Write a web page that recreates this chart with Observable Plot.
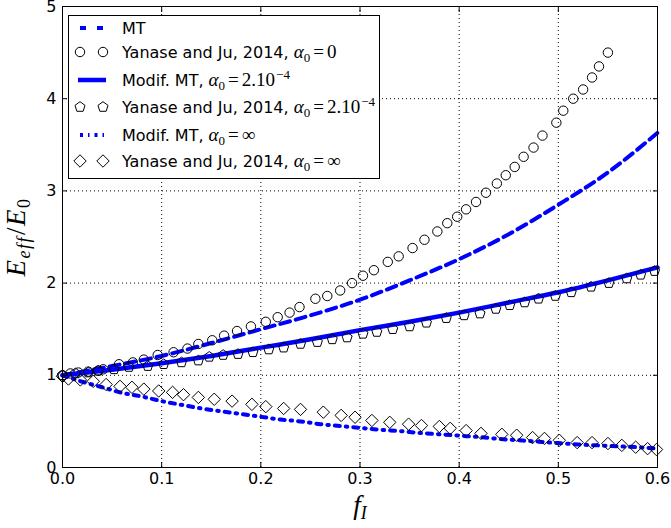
<!DOCTYPE html>
<html><head><meta charset="utf-8">
<script src="https://cdn.jsdelivr.net/npm/d3@7"></script>
<script src="https://cdn.jsdelivr.net/npm/@observablehq/plot@0.6"></script>
<style>body{margin:0;background:#fff} #c{position:relative;width:671px;height:528px}</style>
</head><body><div id="c"></div><script>
// ---- data ----
const xTicks = [0, 0.1, 0.2, 0.3, 0.4, 0.5, 0.6];
const yTicks = [0, 1, 2, 3, 4, 5];

// MT (dashed)
const mtF = [0,0.05,0.1,0.15,0.2,0.25,0.3,0.35,0.4,0.45,0.5,0.55,0.6];
const mtE = [1,1.1,1.21,1.35,1.5,1.65,1.82,2.03,2.26,2.53,2.85,3.2,3.63];

// Yanase and Ju, alpha0 = 0 (circles)
const circF = [0,0.008,0.016,0.026,0.036,0.041,0.057,0.071,0.082,0.096,0.112,0.126,0.137,0.151,0.163,0.176,0.190,0.205,0.217,0.229,0.239,0.255,0.267,0.280,0.292,0.303,0.314,0.328,0.339,0.353,0.365,0.378,0.388,0.398,0.407,0.417,0.427,0.438,0.447,0.456,0.465,0.475,0.484,0.498,0.505,0.515,0.525,0.534,0.541,0.550];
const circE = [1.0,1.02,1.03,1.04,1.05,1.065,1.12,1.14,1.17,1.22,1.25,1.29,1.34,1.38,1.43,1.48,1.53,1.58,1.63,1.68,1.74,1.83,1.86,1.92,2.0,2.08,2.14,2.23,2.29,2.38,2.47,2.56,2.65,2.72,2.80,2.88,2.98,3.08,3.17,3.26,3.37,3.47,3.60,3.74,3.87,4.0,4.10,4.23,4.35,4.5];

// Modif. MT, alpha0 = 2e-4 (solid)
const solF = [0,0.05,0.1,0.15,0.2,0.25,0.3,0.35,0.4,0.45,0.5,0.55,0.6];
const solE = [1,1.06,1.13,1.21,1.3,1.39,1.49,1.58,1.68,1.79,1.9,2.03,2.17];

// Yanase and Ju, alpha0 = 2e-4 (pentagons)
const pentF = [0,0.013,0.026,0.036,0.052,0.067,0.086,0.102,0.12,0.137,0.148,0.162,0.177,0.192,0.208,0.223,0.240,0.257,0.272,0.287,0.303,0.317,0.333,0.350,0.367,0.387,0.405,0.421,0.437,0.451,0.466,0.480,0.497,0.513,0.533,0.551,0.569,0.583,0.597];
const pentE = [1.0,1.02,1.03,1.05,1.065,1.09,1.10,1.12,1.14,1.16,1.20,1.22,1.23,1.25,1.28,1.30,1.34,1.36,1.39,1.41,1.45,1.47,1.50,1.53,1.57,1.62,1.65,1.67,1.72,1.76,1.79,1.83,1.86,1.90,1.96,2.0,2.05,2.09,2.13];

// Modif. MT, alpha0 = inf (dash-dot)
const ddF = [0,0.02,0.04,0.06,0.08,0.1,0.12,0.14,0.16,0.18,0.2,0.22,0.24,0.26,0.28,0.3,0.32,0.34,0.36,0.38,0.4,0.42,0.44,0.46,0.48,0.5,0.52,0.54,0.56,0.58,0.6];
const ddE = [1.0,0.93,0.87,0.81,0.77,0.72,0.68,0.64,0.61,0.58,0.55,0.52,0.50,0.47,0.45,0.43,0.41,0.395,0.375,0.36,0.345,0.33,0.31,0.295,0.28,0.265,0.25,0.24,0.23,0.22,0.205];

// Yanase and Ju, alpha0 = inf (diamonds)
const diaF = [0,0.006,0.018,0.031,0.044,0.058,0.070,0.082,0.097,0.111,0.122,0.137,0.153,0.171,0.191,0.205,0.223,0.240,0.263,0.281,0.295,0.312,0.330,0.349,0.362,0.380,0.391,0.407,0.422,0.443,0.458,0.474,0.486,0.501,0.519,0.534,0.550,0.564,0.578,0.590,0.599];
const diaE = [0.99,0.96,0.95,0.935,0.90,0.88,0.87,0.85,0.83,0.815,0.79,0.76,0.74,0.72,0.685,0.66,0.64,0.63,0.60,0.565,0.545,0.51,0.49,0.47,0.455,0.445,0.425,0.40,0.37,0.36,0.35,0.325,0.315,0.295,0.27,0.27,0.26,0.24,0.22,0.205,0.195];

// ---- build ----
const pts = (xs, ys) => xs.map((x, i) => ({f: x, e: ys[i]}));
const blue = "#0000ff";
const pentagon = {draw(ctx, size) {
  const R = Math.sqrt(size / Math.PI);
  for (let i = 0; i < 5; i++) {
    const a = -Math.PI / 2 + i * 2 * Math.PI / 5;
    const px = R * Math.cos(a), py = R * Math.sin(a);
    i ? ctx.lineTo(px, py) : ctx.moveTo(px, py);
  }
  ctx.closePath();
}};
const blank = () => "";
const rC = 4.7, rP = 5.3, rD = 5.6;

const chart = Plot.plot({
  width: 671, height: 528,
  marginLeft: 62, marginRight: 14, marginTop: 6, marginBottom: 61,
  style: {fontFamily: "DejaVu Sans", fontSize: "16px", background: "white", color: "black"},
  x: {domain: [0, 0.6]},
  y: {domain: [0, 5]},
  marks: [
    Plot.gridX(xTicks, {stroke: "black", strokeOpacity: 1, strokeWidth: 1, strokeDasharray: "1,3"}),
    Plot.gridY(yTicks, {stroke: "black", strokeOpacity: 1, strokeWidth: 1, strokeDasharray: "1,3"}),
    Plot.line(pts(mtF, mtE), {x: "f", y: "e", stroke: blue, strokeWidth: 4, strokeDasharray: "10,6", curve: "monotone-x"}),
    Plot.dot(pts(circF, circE), {x: "f", y: "e", r: rC, stroke: "black", fill: "none", strokeWidth: 1}),
    Plot.line(pts(solF, solE), {x: "f", y: "e", stroke: blue, strokeWidth: 4.5, curve: "monotone-x"}),
    Plot.dot(pts(pentF, pentE), {x: "f", y: "e", symbol: pentagon, r: rP, stroke: "black", fill: "none", strokeWidth: 1}),
    Plot.line(pts(ddF, ddE), {x: "f", y: "e", stroke: blue, strokeWidth: 4, strokeDasharray: "5,6,1.5,6", curve: "monotone-x"}),
    Plot.dot(pts(diaF, diaE), {x: "f", y: "e", symbol: "diamond2", r: rD, stroke: "black", fill: "none", strokeWidth: 1}),
    Plot.frame({stroke: "black", strokeWidth: 1}),
    Plot.axisX(xTicks, {anchor: "bottom", tickSize: 0, tickPadding: 5, tickFormat: d => d.toFixed(1), label: null}),
    Plot.axisY(yTicks, {anchor: "left", tickSize: 0, tickPadding: 6, tickFormat: d => String(d), label: null}),
    Plot.axisX(xTicks, {anchor: "bottom", tickSize: 5, dy: -5, tickFormat: blank, label: null}),
    Plot.axisX(xTicks, {anchor: "top", tickSize: 5, dy: 5, tickFormat: blank, label: null}),
    Plot.axisY(yTicks, {anchor: "left", tickSize: 5, dx: 5, tickFormat: blank, label: null}),
    Plot.axisY(yTicks, {anchor: "right", tickSize: 5, dx: -5, tickFormat: blank, label: null})
  ]
});
document.getElementById("c").appendChild(chart);

const svg = d3.select(chart);
const serif = "'Liberation Serif', serif";

// axis labels
const yl = svg.append("text").attr("transform", "translate(25,237) rotate(-90)")
  .attr("text-anchor", "middle").attr("font-family", serif).attr("font-size", 27).attr("fill", "black")
  .attr("letter-spacing", 1.5);
yl.append("tspan").attr("font-style", "italic").text("E");
yl.append("tspan").attr("font-style", "italic").attr("font-size", 18).attr("dy", 5).text("eff");
yl.append("tspan").attr("dy", -5).attr("dx", 1).text("/");
yl.append("tspan").attr("font-style", "italic").text("E");
yl.append("tspan").attr("font-size", 18).attr("dy", 5).text("0");

const xl = svg.append("text").attr("x", 360).attr("y", 514)
  .attr("text-anchor", "middle").attr("font-family", serif).attr("font-size", 27).attr("fill", "black");
xl.append("tspan").attr("font-style", "italic").text("f");
xl.append("tspan").attr("font-style", "italic").attr("font-size", 18).attr("dy", 5).text("I");

// legend
const lg = svg.append("g").attr("text-anchor", "start");
lg.append("rect").attr("x", 68.5).attr("y", 15.5).attr("width", 311).attr("height", 163)
  .attr("fill", "white").attr("stroke", "black").attr("stroke-width", 1);

const rows = [
  {kind: "dash", text: "MT", math: null, cy: 28},
  {kind: "circle", text: "Yanase and Ju, 2014, ", math: "0", cy: 52},
  {kind: "solid", text: "Modif. MT, ", math: "2e", cy: 80},
  {kind: "pent", text: "Yanase and Ju, 2014, ", math: "2e", cy: 107},
  {kind: "dd", text: "Modif. MT, ", math: "inf", cy: 135},
  {kind: "dia", text: "Yanase and Ju, 2014, ", math: "inf", cy: 161}
];
const sym = {circle: d3.symbolCircle, pent: pentagon, dia: d3.symbolDiamond2};
const rad = {circle: rC, pent: rP, dia: rD};
for (const r of rows) {
  if (r.kind === "dash" || r.kind === "solid" || r.kind === "dd") {
    const ln = lg.append("line").attr("x1", 78).attr("x2", 106).attr("y1", r.cy).attr("y2", r.cy)
      .attr("stroke", blue).attr("stroke-width", r.kind === "solid" ? 4.5 : 4);
    if (r.kind === "dash") ln.attr("stroke-dasharray", "6,11").attr("x1", 80);
    if (r.kind === "dd") ln.attr("stroke-dasharray", "3,5,1.5,5").attr("x1", 80);
  } else {
    for (const cx of [80, 103]) {
      lg.append("path").attr("d", d3.symbol(sym[r.kind], Math.PI * rad[r.kind] ** 2)())
        .attr("transform", `translate(${cx},${r.cy})`).attr("fill", "none").attr("stroke", "black").attr("stroke-width", 1);
    }
  }
  const t = lg.append("text").attr("x", 122).attr("y", r.cy + 6).attr("text-anchor", "start")
    .attr("font-family", "DejaVu Sans").attr("font-size", 16).attr("fill", "black");
  t.append("tspan").text(r.text);
  if (r.math) {
    const m = t.append("tspan").attr("font-family", serif).attr("font-size", 19);
    m.append("tspan").attr("font-style", "italic").text("α");
    m.append("tspan").attr("font-size", 13).attr("dy", 4).text("0");
    m.append("tspan").attr("dy", -4).attr("dx", 3).text("=");
    if (r.math === "0") m.append("tspan").attr("dx", 3).text("0");
    if (r.math === "inf") m.append("tspan").attr("dx", 3).text("∞");
    if (r.math === "2e") {
      m.append("tspan").attr("dx", 3).text("2.10");
      m.append("tspan").attr("font-size", 13).attr("dy", -7).attr("dx", 1).text("−4");
    }
  }
}
</script></body></html>
